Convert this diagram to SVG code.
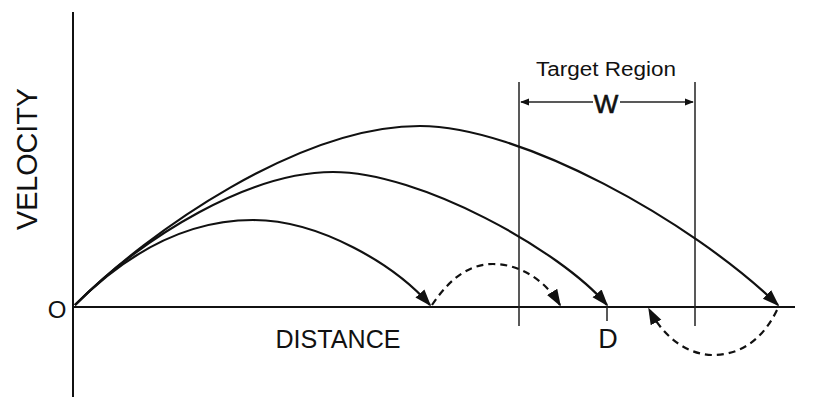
<svg xmlns="http://www.w3.org/2000/svg" width="818" height="397" viewBox="0 0 818 397">
<style>
.ax{stroke:#111;stroke-width:2;fill:none}
.thin{stroke:#222;stroke-width:1.5;fill:none}
.cv{stroke:#111;stroke-width:2.2;fill:none}
.ds{stroke:#111;stroke-width:2.2;fill:none;stroke-dasharray:7,5}
.t{font-family:"Liberation Sans",Arial,sans-serif;fill:#111}
</style>
<defs>
<marker id="ah" viewBox="0 0 10 10" refX="9" refY="5" markerWidth="17" markerHeight="17" markerUnits="userSpaceOnUse" orient="auto">
<path d="M0,1.5 L10,5 L0,8.5 Z" fill="#111"/>
</marker>
<marker id="sa" viewBox="0 0 10 10" refX="9" refY="5" markerWidth="9" markerHeight="9" markerUnits="userSpaceOnUse" orient="auto">
<path d="M0,1 L10,5 L0,9 Z" fill="#111"/>
</marker>
</defs>
<g id="axes">
<line class="ax" x1="73" y1="12" x2="73" y2="397"/>
<line class="ax" x1="73" y1="307" x2="795" y2="307"/>
<line class="thin" x1="607" y1="307" x2="607" y2="321"/>
</g>
<g id="target-region">
<line class="thin" x1="519" y1="82" x2="519" y2="326"/>
<line class="thin" x1="695" y1="82" x2="695" y2="326"/>
<line class="thin" x1="593" y1="102" x2="521" y2="102" marker-end="url(#sa)"/>
<line class="thin" x1="620" y1="102" x2="693" y2="102" marker-end="url(#sa)"/>
<text class="t" x="606" y="76" font-size="20" text-anchor="middle" textLength="140" lengthAdjust="spacingAndGlyphs">Target Region</text>
<text class="t" x="606" y="113" font-size="26" text-anchor="middle" stroke="#111" stroke-width="0.6">W</text>
</g>
<g id="labels">
<text class="t" x="57" y="318" font-size="24" text-anchor="middle">O</text>
<text class="t" x="338" y="348" font-size="26" text-anchor="middle" textLength="125" lengthAdjust="spacingAndGlyphs">DISTANCE</text>
<text class="t" x="608" y="348" font-size="27" text-anchor="middle">D</text>
<text class="t" x="0" y="0" font-size="29" text-anchor="middle" textLength="142" lengthAdjust="spacingAndGlyphs" transform="translate(37,159) rotate(-90)">VELOCITY</text>
</g>
<g id="connectors">
<path class="cv" d="M75,305 C150,230 300,126 420,126 C520,126 690,220 778,305" marker-end="url(#ah)"/>
<path class="cv" d="M75,305 C145,235 250,172 333,172 C420,172 560,250 607,305" marker-end="url(#ah)"/>
<path class="cv" d="M75,305 C130,250 190,220 253,220 C320,220 395,265 430,305" marker-end="url(#ah)"/>
<path class="ds" d="M432,305 C452,275 472,264 493,264 C520,264 545,280 560,305" marker-end="url(#ah)"/>
<path class="ds" d="M777,310 C760,345 735,355 713,355 C690,355 665,340 649,309" marker-end="url(#ah)"/>
</g>
</svg>
